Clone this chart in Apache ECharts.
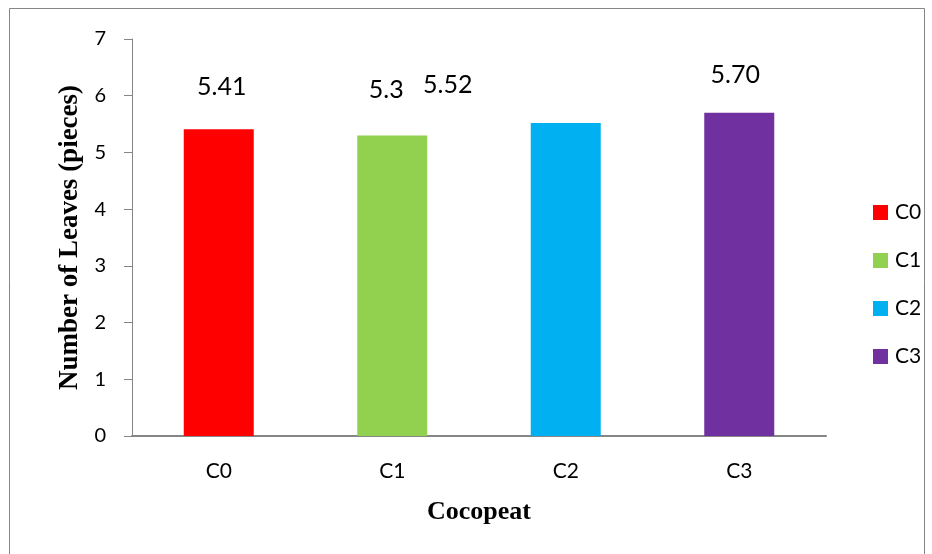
<!DOCTYPE html>
<html>
<head>
<meta charset="utf-8">
<script src="https://cdn.jsdelivr.net/npm/echarts@6/dist/echarts.min.js"></script>
<style>
  html, body { margin: 0; padding: 0; background: #fff; }
  #chart { width: 932px; height: 554px; }
</style>
</head>
<body>
<div id="chart"></div>
<script>
// Leaf count per cocopeat treatment
const categories = ['C0', 'C1', 'C2', 'C3'];
const values = [5.41, 5.3, 5.52, 5.70];
const labelTexts = ['5.41', '5.3', '5.52', '5.70'];
const colors = ['#FF0000', '#92D050', '#00B0F0', '#7030A0'];
const yTicks = [0, 1, 2, 3, 4, 5, 6, 7];

// label placement per bar: [x shift, height above the bar top]
const labelPlace = [[3, 42], [-6, 45], [-118, 38], [-4, 38]];

const axisGray = '#868686';
const sansFont = 'Lato, "Open Sans", sans-serif';
const serifFont = '"Liberation Serif", "DejaVu Serif", serif';

const series = categories.map((name, i) => ({
  name: name,
  type: 'bar',
  barWidth: 70,
  barGap: '-100%',
  itemStyle: { color: colors[i] },
  data: categories.map((c, j) => j === i ? {
    value: values[i],
    label: {
      show: true,
      position: ['50%', -labelPlace[i][1]],
      offset: [labelPlace[i][0], 0],
      align: 'center',
      verticalAlign: 'middle',
      formatter: () => labelTexts[i],
      fontFamily: sansFont,
      fontSize: 25,
      color: '#000'
    }
  } : null)
}));

const chart = echarts.init(document.getElementById('chart'), null, { renderer: 'canvas' });
chart.setOption({
  animation: false,
  backgroundColor: '#fff',
  grid: { left: 132, right: 106, top: 39, bottom: 118, containLabel: false },
  legend: {
    orient: 'vertical',
    left: 868,
    top: 197,
    itemWidth: 15,
    itemHeight: 15,
    itemGap: 27,
    icon: 'rect',
    data: categories,
    textStyle: { fontFamily: sansFont, fontSize: 21, color: '#000', padding: [0, 0, 0, 2] }
  },
  xAxis: {
    type: 'category',
    data: categories,
    name: 'Cocopeat',
    nameLocation: 'middle',
    nameGap: 63,
    nameTextStyle: { fontFamily: serifFont, fontWeight: 'bold', fontSize: 26, color: '#000' },
    axisLine: { lineStyle: { color: axisGray, width: 2 } },
    axisTick: { show: false },
    axisLabel: { margin: 25, fontFamily: sansFont, fontSize: 21, color: '#000' }
  },
  yAxis: {
    type: 'value',
    min: 0,
    max: 7,
    interval: 1,
    name: 'Number of Leaves (pieces)',
    nameLocation: 'middle',
    nameGap: 45,
    nameTextStyle: { fontFamily: serifFont, fontWeight: 'bold', fontSize: 27, color: '#000' },
    axisLine: { show: true, lineStyle: { color: axisGray, width: 1 } },
    axisTick: { show: true, length: 8, lineStyle: { color: axisGray } },
    splitLine: { show: false },
    axisLabel: {
      margin: 26,
      fontFamily: sansFont,
      fontSize: 20,
      color: '#000',
      formatter: v => yTicks.includes(v) ? String(v) : ''
    }
  },
  graphic: [{
    type: 'rect',
    shape: { x: 9.5, y: 8.5, width: 915, height: 570 },
    style: { fill: null, stroke: axisGray, lineWidth: 1 },
    silent: true,
    z: -1
  }],
  series: series
});
</script>
</body>
</html>
